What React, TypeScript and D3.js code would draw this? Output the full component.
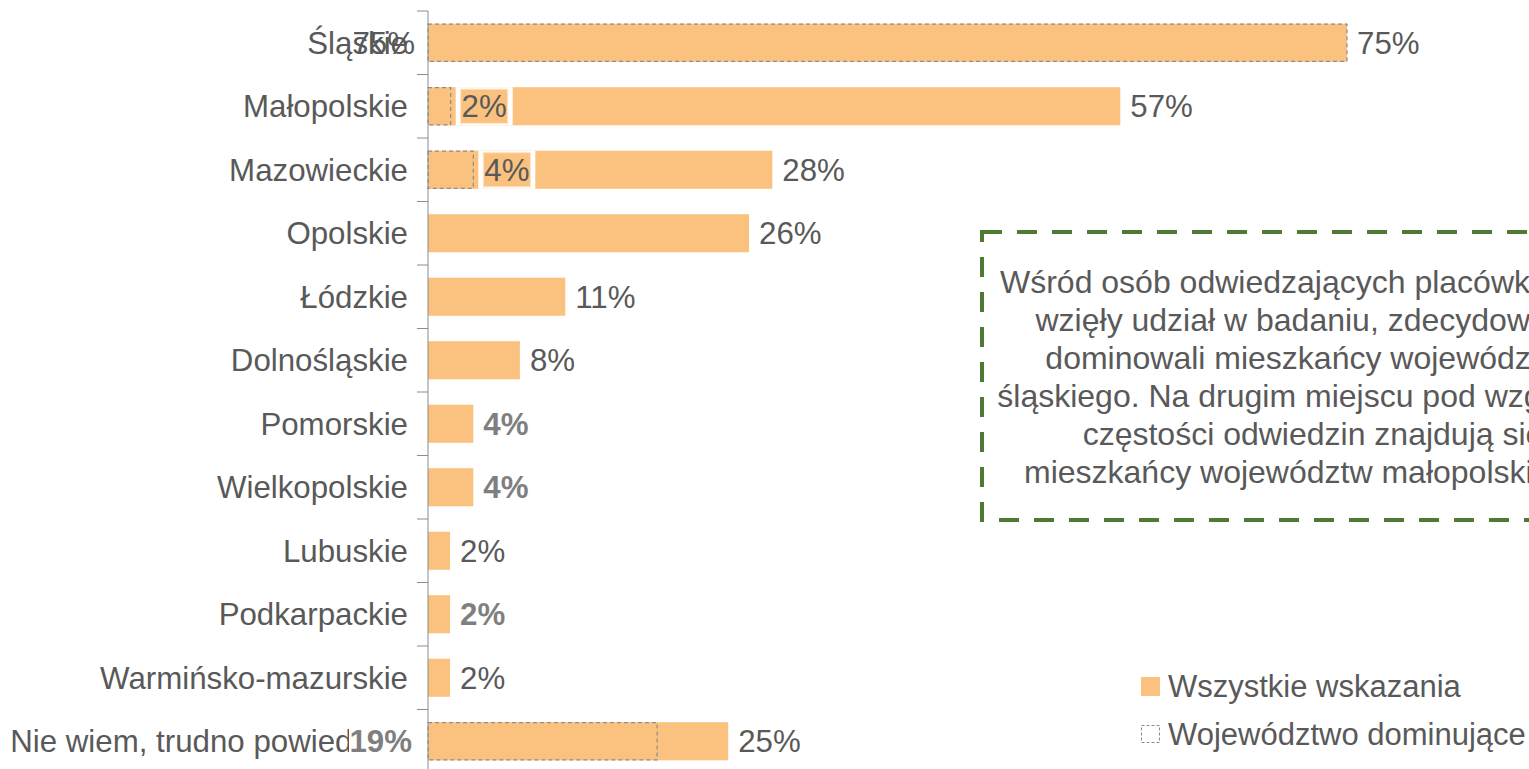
import React from "react";
import * as d3 from "d3";

const categories = [
  "Śląskie",
  "Małopolskie",
  "Mazowieckie",
  "Opolskie",
  "Łódzkie",
  "Dolnośląskie",
  "Pomorskie",
  "Wielkopolskie",
  "Lubuskie",
  "Podkarpackie",
  "Warmińsko-mazurskie",
  "Nie wiem, trudno powiedzieć",
];
const allValues = [75, 56.5, 28.1, 26.2, 11.2, 7.5, 3.7, 3.7, 1.8, 1.8, 1.8, 24.5];
const dominantValues: (number | null)[] = [75, 1.85, 3.7, null, null, null, null, null, null, null, null, 18.7];
const seriesNames = ["Wszystkie wskazania", "Województwo dominujące"];
const noteLines = [
  "Wśród osób odwiedzających placówki, które",
  "wzięły udział w badaniu, zdecydowanie",
  "dominowali mieszkańcy województwa",
  "śląskiego. Na drugim miejscu pod względem",
  "częstości odwiedzin znajdują się",
  "mieszkańcy województw małopolskiego i",
];

const W = 1529;
const H = 769;
const FONT = "'Liberation Sans', Arial, sans-serif";
const FS = 31.25;
const LEG_FS = 31;
const NOTE_FS = 32;
const ORANGE = "#FAC27E";
const TEXT = "#595959";
const LIGHT = "#7F7F7F";
const AXIS = "#8C8C8C";
const GREEN = "#4F7A36";

// label styling per category (presentation, not data)
const boldAllLabels = new Set(["Pomorskie", "Wielkopolskie", "Podkarpackie"]);
const domLabelMode: Record<string, string> = {
  "Śląskie": "left",
  "Małopolskie": "box",
  "Mazowieckie": "box",
  "Nie wiem, trudno powiedzieć": "leftBox",
};

const fmt = (v: number) => `${Math.round(v)}%`;

export default function App() {
  const x = d3.scaleLinear().domain([0, 75]).range([428, 1347]);
  const y = d3
    .scaleBand<string>()
    .domain(categories)
    .range([11, 773])
    .paddingInner(0.4)
    .paddingOuter(0.2);
  const step = y.step();
  const bw = y.bandwidth();
  const x0 = x(0);

  return (
    <svg
      width={W}
      height={H}
      style={{ position: "absolute", left: 0, top: 0, background: "#fff" }}
      fontFamily={FONT}
    >
      {/* main bars */}
      {categories.map((c, i) => (
        <rect key={"a" + c} x={x0} y={y(c)!} width={x(allValues[i]) - x0} height={bw} fill={ORANGE} />
      ))}
      {/* dominant bars */}
      {categories.map((c, i) => {
        const v = dominantValues[i];
        if (v == null) return null;
        return (
          <rect
            key={"d" + c}
            x={x0}
            y={y(c)! + 0.5}
            width={x(v) - x0}
            height={bw - 1}
            fill={ORANGE}
            stroke={AXIS}
            strokeWidth={1.2}
            strokeDasharray="4 3"
          />
        );
      })}
      {/* category labels */}
      {categories.map((c) => (
        <text key={"c" + c} x={408} y={y(c)! + bw / 2} dy="0.35em" textAnchor="end" fontSize={FS} fill={TEXT}>
          {c}
        </text>
      ))}
      {/* all-values labels */}
      {categories.map((c, i) => {
        const bold = boldAllLabels.has(c);
        return (
          <text
            key={"l" + c}
            x={x(allValues[i]) + 10}
            y={y(c)! + bw / 2}
            dy="0.35em"
            fontSize={FS}
            fontWeight={bold ? "bold" : "normal"}
            fill={bold ? LIGHT : TEXT}
          >
            {fmt(allValues[i])}
          </text>
        );
      })}
      {/* dominant labels */}
      {categories.map((c, i) => {
        const v = dominantValues[i];
        if (v == null) return null;
        const mode = domLabelMode[c];
        const cy = y(c)! + bw / 2;
        const top = y(c)!;
        if (mode === "box") {
          const ex = x(v);
          return (
            <g key={"dl" + c}>
              <rect x={ex + 5} y={top} width={57} height={bw} fill="#fff" />
              <rect x={ex + 10} y={top + 2} width={47} height={bw - 4} fill={ORANGE} stroke="#FDE3C4" strokeWidth={1} />
              <text x={ex + 33.5} y={cy} dy="0.35em" textAnchor="middle" fontSize={FS} fill={TEXT}>
                {fmt(v)}
              </text>
            </g>
          );
        }
        if (mode === "leftBox") {
          return (
            <g key={"dl" + c}>
              <rect x={349} y={cy - 17} width={65} height={34} fill="#fff" />
              <text x={412} y={cy} dy="0.35em" textAnchor="end" fontSize={FS} fontWeight="bold" fill={LIGHT}>
                {fmt(v)}
              </text>
            </g>
          );
        }
        return (
          <text key={"dl" + c} x={415} y={cy} dy="0.35em" textAnchor="end" fontSize={FS} fill={TEXT}>
            {fmt(v)}
          </text>
        );
      })}
      {/* axis */}
      <line x1={x0} x2={x0} y1={11} y2={773} stroke={AXIS} strokeWidth={1} />
      {d3.range(categories.length + 1).map((k) => (
        <line key={"t" + k} x1={417} x2={x0} y1={11 + k * step} y2={11 + k * step} stroke={AXIS} strokeWidth={1} />
      ))}
      {/* note box */}
      <rect
        x={982}
        y={232}
        width={662}
        height={288}
        fill="none"
        stroke={GREEN}
        strokeWidth={4}
        strokeDasharray="20 15"
      />
      {noteLines.map((t, k) => (
        <text key={"n" + k} x={1313} y={293 + k * 38} textAnchor="middle" fontSize={NOTE_FS} fill={TEXT}>
          {t}
        </text>
      ))}
      {/* legend */}
      <rect x={1141} y={677} width={19} height={19} fill={ORANGE} />
      <text x={1168} y={697} fontSize={LEG_FS} fill={TEXT}>
        {seriesNames[0]}
      </text>
      <rect
        x={1141.5}
        y={725.5}
        width={18}
        height={17}
        fill="#fff"
        stroke={AXIS}
        strokeWidth={1}
        strokeDasharray="3 2"
      />
      <text x={1168} y={745} fontSize={LEG_FS} fill={TEXT}>
        {seriesNames[1]}
      </text>
    </svg>
  );
}
